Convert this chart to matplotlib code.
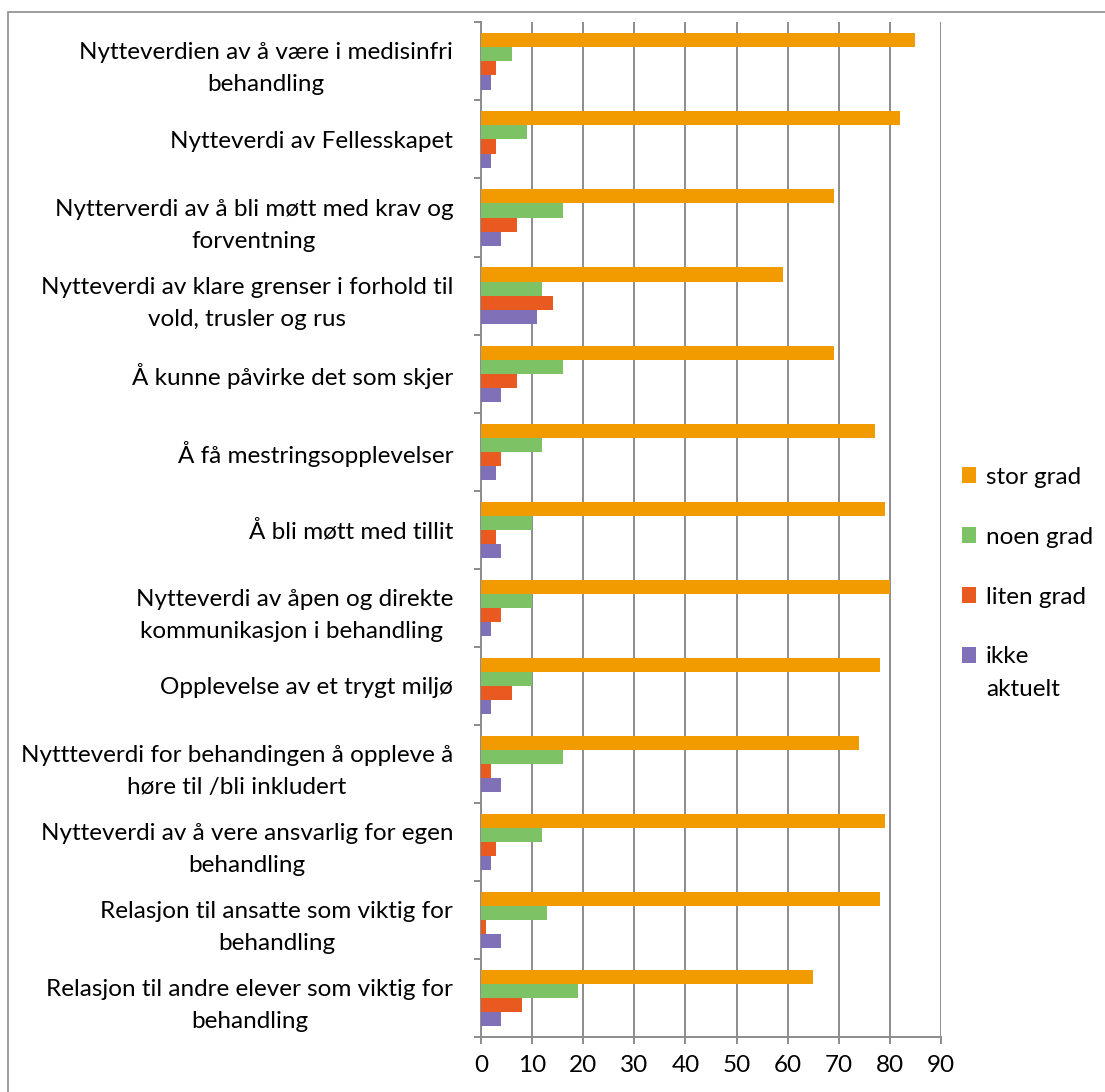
import matplotlib
matplotlib.use("Agg")
import matplotlib.pyplot as plt
from matplotlib.patches import Rectangle, Patch
import numpy as np

plt.rcParams['font.family'] = ['Lato', 'DejaVu Sans']

# categories, top to bottom
categories = [
    "Nytteverdien av å være i medisinfri\nbehandling",
    "Nytteverdi av Fellesskapet",
    "Nytterverdi av å bli møtt med krav og\nforventning",
    "Nytteverdi av klare grenser i forhold til\nvold, trusler og rus",
    "Å kunne påvirke det som skjer",
    "Å få mestringsopplevelser",
    "Å bli møtt med tillit",
    "Nytteverdi av åpen og direkte\nkommunikasjon i behandling ",
    "Opplevelse av et trygt miljø",
    "Nyttteverdi for behandingen å oppleve å\nhøre til /bli inkludert",
    "Nytteverdi av å vere ansvarlig for egen\nbehandling",
    "Relasjon til ansatte som viktig for\nbehandling",
    "Relasjon til andre elever som viktig for\nbehandling",
]

stor_grad = [85, 82, 69, 59, 69, 77, 79, 80, 78, 74, 79, 78, 65]
noen_grad = [6, 9, 16, 12, 16, 12, 10, 10, 10, 16, 12, 13, 19]
liten_grad = [3, 3, 7, 14, 7, 4, 3, 4, 6, 2, 3, 1, 8]
ikke_aktuelt = [2, 2, 4, 11, 4, 3, 4, 2, 2, 4, 2, 4, 4]

series = [
    ("stor grad", stor_grad, "#F29B00"),
    ("noen grad", noen_grad, "#7DC366"),
    ("liten grad", liten_grad, "#E85A20"),
    ("ikke", ikke_aktuelt, "#8070B8"),
]

FS = 17.5
W, H = 1105, 1092
fig = plt.figure(figsize=(W / 100, H / 100), dpi=100)
ax = fig.add_axes([481 / W, 1 - 1037 / H, 460 / W, (1037 - 22.4) / H])

# outer frame of the chart area
fig.add_artist(Rectangle((8 / W, -0.05), 1.1, 1 - 12 / H + 0.05,
                         transform=fig.transFigure, fill=False,
                         edgecolor="#8c8c8c", linewidth=1.2))

y = np.arange(len(categories))
h = 0.18
offsets = [-1.5 * h, -0.5 * h, 0.5 * h, 1.5 * h]
handles = []
for (name, vals, col), off in zip(series, offsets):
    ax.barh(y + off, vals, height=h, color=col, zorder=3)
    handles.append(Patch(facecolor=col, label=name))

ax.set_xlim(0, 90)
ax.set_ylim(len(categories) - 0.5, -0.5)
ax.set_xticks(range(0, 91, 10))
ax.set_yticks(y)
ax.set_yticklabels(categories, multialignment="center", linespacing=1.65)
ax.set_yticks(np.arange(-0.5, len(categories), 1), minor=True)

grid_col = "#8c8c8c"
ax.grid(axis="x", color=grid_col, linewidth=1.4, zorder=0)
for s in ["top", "right"]:
    ax.spines[s].set_visible(False)
for s in ["left", "bottom"]:
    ax.spines[s].set_color(grid_col)
    ax.spines[s].set_linewidth(1.4)

ax.tick_params(axis="y", which="major", length=0, pad=20, labelsize=FS)
ax.tick_params(axis="y", which="minor", length=5, width=1.4, color=grid_col)
ax.tick_params(axis="x", length=5, width=1.4, color=grid_col, labelsize=FS, pad=8)

leg = fig.legend(handles=handles, loc="upper left", bbox_to_anchor=(952 / W, 1 - 457 / H),
                 frameon=False, fontsize=FS, handlelength=0.6, handleheight=0.6,
                 handletextpad=0.4, labelspacing=1.6, borderaxespad=0)

# second line of the last legend entry
fig.canvas.draw()
last = leg.get_texts()[-1]
bb = last.get_window_extent()
fig.text(bb.x0 / W, (bb.y0 - 33) / H, "aktuelt", fontsize=FS, ha="left", va="bottom")

fig.savefig("out.png", dpi=100)
